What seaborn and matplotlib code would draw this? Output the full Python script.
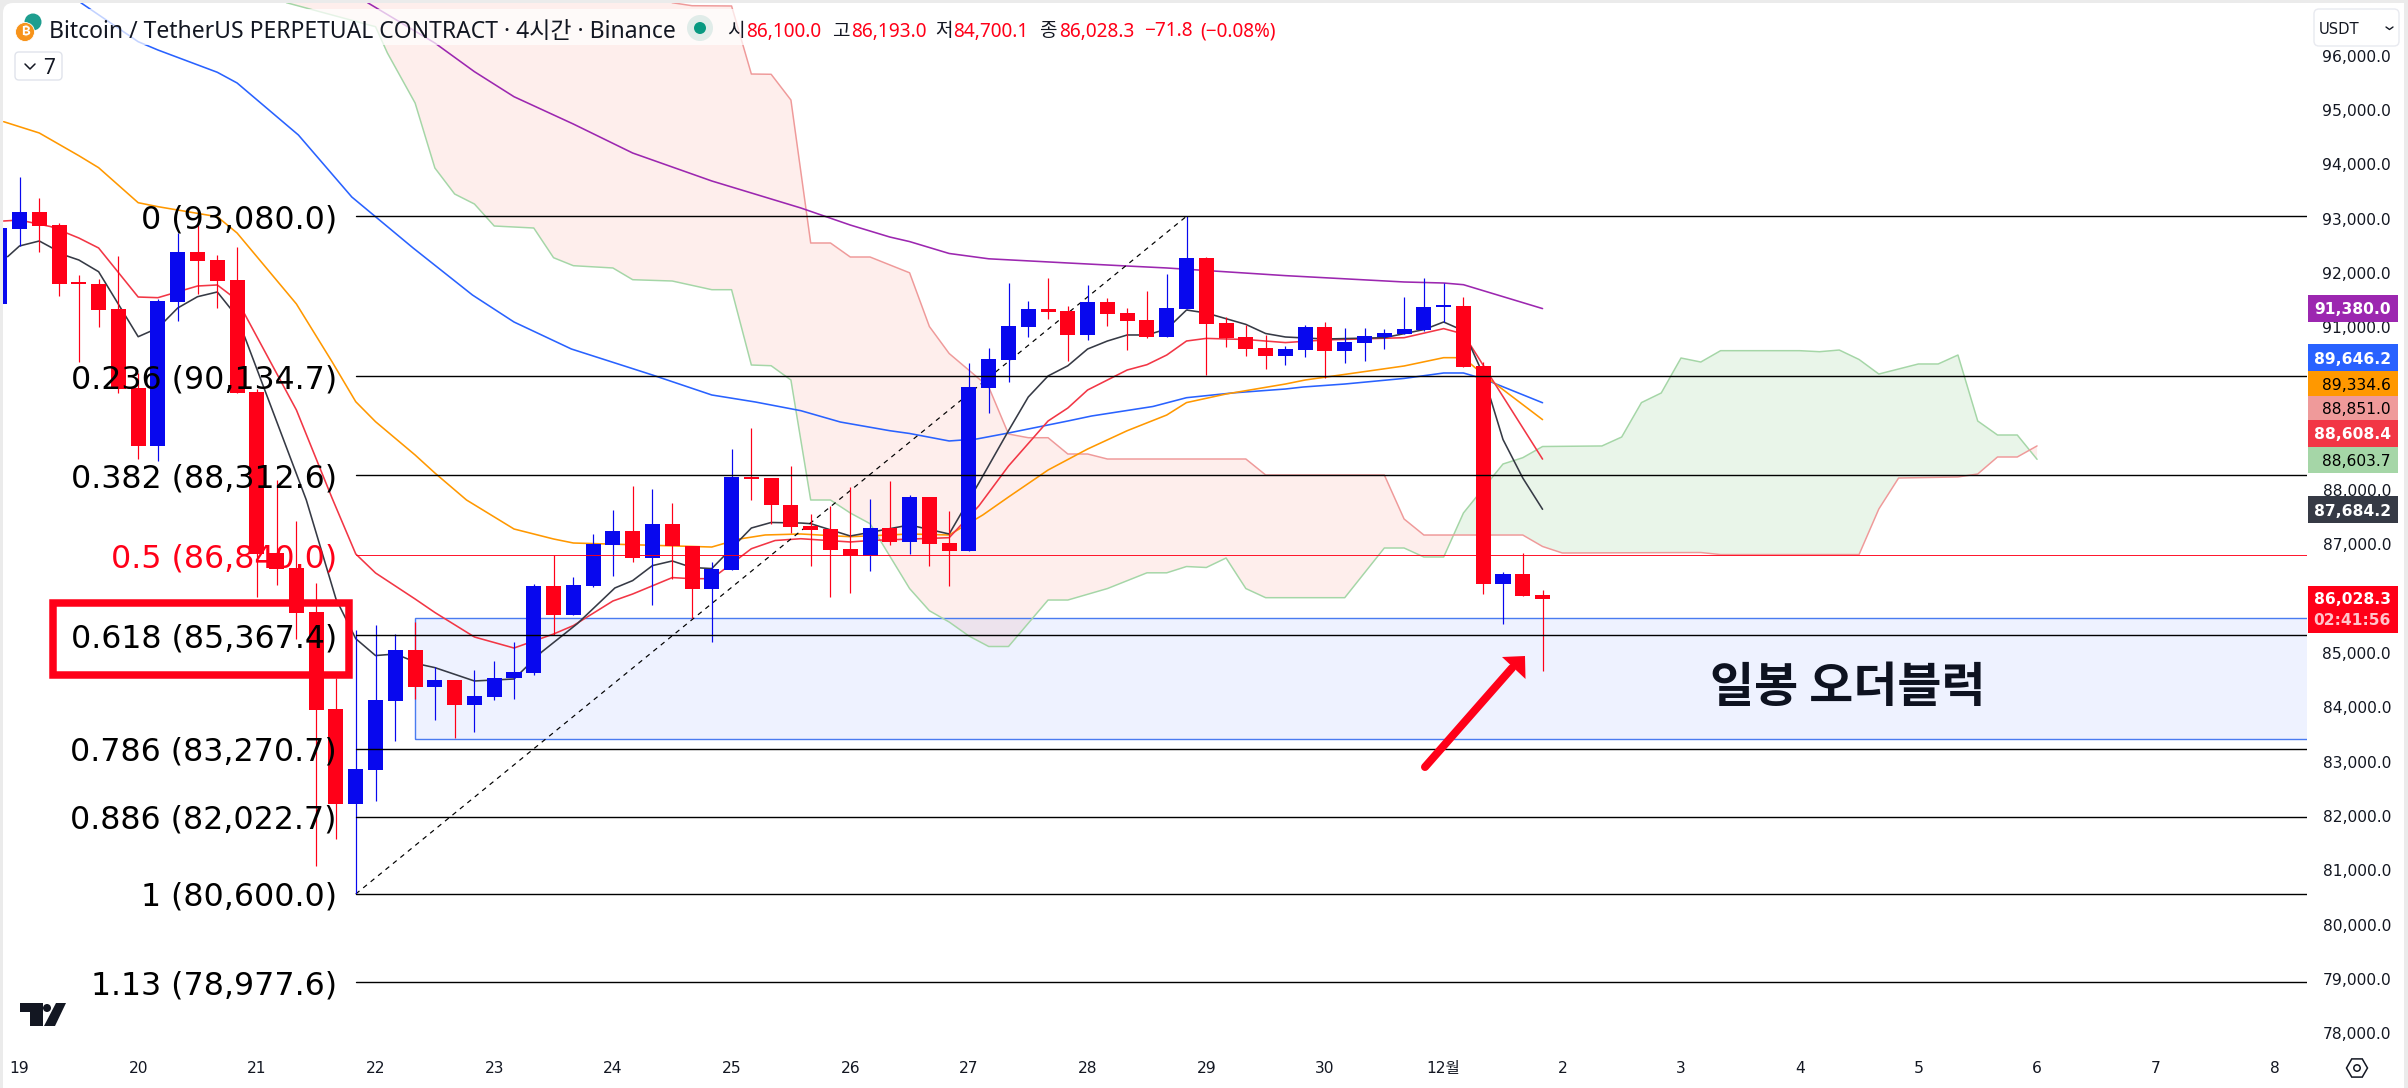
import numpy as np
import pandas as pd
import matplotlib
matplotlib.use("Agg")
import matplotlib.pyplot as plt
import seaborn as sns
from matplotlib.patches import Rectangle, Circle, Polygon, FancyBboxPatch, RegularPolygon
from matplotlib.lines import Line2D
from matplotlib.transforms import IdentityTransform, Affine2D

# ---------- OHLC (4h candles, index 0 = 19th 00:00) ----------
candle_idx = list(range(-1, 78))
opens = [91470,92851,93159,92919,91851,91838,91372,89923,88855,91501,92422,92275,91906,89844,86879,86603,85792,
         84006,82262,82890,84161,85093,84402,84540,84071,84227,84568,84678,86271,85728,86271,87034,87284,86787,
         87413,87000,86225,86566,88279,88260,87772,87380,87321,86953,86831,87339,87082,87910,87063,86916,89918,
         90433,91041,91372,91336,90894,91501,91299,91170,90857,91372,92312,91115,90857,90654,90507,90617,91041,
         90599,90747,90857,90912,90986,91409,91428,90323,86308,86492,86100]
closes = [92864,93159,92901,91838,91833,91354,89899,88855,91520,92422,92257,91888,89826,86861,86592,85783,83995,
          82262,82901,84172,85093,84402,84540,84071,84245,84577,84688,86271,85728,86290,87045,87284,86787,87413,
          87000,86225,86584,88279,88242,87772,87358,87310,86934,86831,87339,87082,87910,87045,86916,89936,90452,
          91059,91372,91317,90894,91501,91280,91151,90857,91391,92312,91096,90839,90636,90507,90636,91041,90599,
          90765,90875,90931,91004,91409,91428,90304,86308,86492,86087,86028]
highs = [93000,93803,93417,92956,92000,91925,92348,90194,91557,92772,93011,92367,92514,89899,88223,87468,86326,
         84577,85452,85553,85387,85608,84780,84540,84724,84890,85240,86308,86833,86437,87229,87662,88113,88058,
         87800,87000,86713,88794,89181,88260,88481,87597,87745,88095,87873,88205,87947,87910,87652,90378,90654,
         91851,91520,91943,91428,91814,91575,91391,91704,92017,93080,92330,91225,91078,90894,90682,91078,91133,
         91023,91023,91004,91594,91943,91851,91594,90396,86529,86888,86193]
lows = [91300,92533,92428,91612,90396,91041,89826,88610,88573,91151,91654,91391,89826,86069,86295,85301,81122,
        81619,80600,82312,83417,84196,83803,83463,83583,84181,84196,84637,85369,85728,86253,86455,86722,85921,
        86406,85673,85240,86566,87855,87413,87247,86643,86069,86142,86547,87032,86861,86640,86271,86916,89457,
        90028,90857,91188,90415,90802,91059,90617,90838,90857,91372,90157,90673,90507,90268,90341,90489,90102,
        90378,90415,90636,90912,90967,91133,90304,86124,85571,86087,84700]

# ---------- moving averages ----------
purple_x = [17.6,21,23,25,28,31,35,39.5,42,44,45,47,49,53,56,58,64,70,72,73,77]
purple_v = [97013,96271,95743,95282,94779,94245,93730,93233,92919,92698,92614,92395,92297,92220,92164,92128,91987,91870,91851,91820,91380]
blue_x = [3.1,6,7,10,11,14.1,16.8,19.9,22.9,25,27.9,32,35,37.2,39.5,41.5,44,45,47,48.4,50,53,54.2,57.3,59,61.4,64,64.9,67,70,72,73,74,77]
blue_v = [97013,96295,96142,95732,95535,94577,93435,92496,91630,91133,90636,90157,89789,89660,89500,89291,89131,89080,88942,88979,89089,89310,89402,89577,89739,89829,89899,89936,89991,90094,90194,90194,90087,89646]
orange_x = [-0.8,1,3,4,6,7,10,11,14,15.8,17,18,20,21,22.6,25,27,28,35,36.4,37.7,39.5,42,45,47,48.7,50,52,54,56,58,59,61,64,65,70,72,73,74,77]
orange_v = [94822,94614,94196,93975,93330,93257,93072,92772,91465,90402,89665,89297,88684,88352,87855,87321,87137,87063,86989,87137,87211,87229,87179,87229,87211,87579,87910,88407,88794,89131,89420,89649,89807,89991,90065,90323,90476,90476,90164,89335]
redma_x = [-0.8,0,1.6,3,4,6,7,9,10,11,14,15.8,17,18,20,21,23,25,27,28,30,31,33,34,35,37,38.2,39.5,42,43,47,48.5,50,52,53,54,56,57,58,59,60,62,64,66,70,72,73,77]
redma_v = [92993,93011,92888,92680,92496,91593,91581,91796,91815,91538,89512,87892,86861,86511,86032,85783,85332,85129,85387,85542,85995,86124,86426,86406,86406,86958,87109,87142,87082,87109,87161,87745,88481,89310,89549,89881,90249,90347,90525,90783,90831,90811,90754,90802,90844,91011,90912,88608]
dark_x = [-0.6,0,1,2.4,3,4,6,7,8,9,10,11,14.5,16,17,18,19,20.4,21,23,25,26.4,28.2,30.1,31,32,33,34,35,37,38,39.5,40,42,45,47,48.5,50,51,52,53,54,55,56,57,58,59,60,62,63,64,66,69,71,72,73,74,75,76,77]
dark_v = [92336,92533,92625,92349,92275,92059,90862,91023,91391,91599,91686,91231,87855,86032,85301,84990,85019,84816,84768,84522,84559,85056,85577,86235,86371,86647,86732,86612,86592,87339,87441,87431,87419,87192,87395,87229,88168,89131,89752,90139,90327,90636,90783,90894,90894,91004,91354,91299,91089,90921,90857,90820,90844,90993,91133,90973,90164,88969,88260,87684]

# ---------- cloud ----------
spanA_x = [13,13.5,18,18.6,20,21,22,23,24,26,27,28,30,31,33,35,36,37,38,39,40,41,42,43,45,46,47,48,49,50,52,53,55,57,58,59,60,61,62,63,67,69,70,71,72,73,75,76,77,80,81,82,83,84,85,86,90,91,92,93,94,96,97,98,99,100,101,102]
spanA_v = [97300,97013,96571,96087,95166,93969,93490,93306,92901,92864,92317,92170,92128,91912,91888,91728,91728,90341,90328,90065,87855,87855,87616,87419,86224,85816,85608,85350,85157,85157,86013,86013,86224,86514,86514,86630,86612,86787,86224,86056,86056,86971,86971,86805,86805,87616,88518,88634,88840,88850,89015,89649,89826,90470,90396,90605,90605,90586,90617,90443,90175,90360,90360,90525,89310,89052,89052,88604]
spanB_x = [13,32,33,34,36,37,38,39,40,41,42,43,45,46,47,49,50,51,52,53,54,55,62,63,69,70,71,76,77,78,85,86,93,94,95,98,99,100,101,102]
spanB_v = [97300,97300,97013,96958,96953,95700,95695,95221,92588,92588,92330,92330,92039,91050,90553,89936,89070,89002,89002,88702,88702,88610,88610,88316,88316,87505,87210,87210,86999,86879,86888,86850,86850,87689,88260,88279,88334,88647,88647,88851]

# ---------- levels and labels ----------
fib_ratio = ["0","0.236","0.382","0.5","0.618","0.786","0.886","1","1.13"]
fib_price = [93080.0,90134.7,88312.6,86840.0,85367.4,83270.7,82022.7,80600.0,78977.6]
fib_start = 17
trend_x = [17, 59]
trend_y = [80600, 93080]
block_x = 20
block_top = 85673
block_bottom = 83454
price_ticks = list(range(78000, 97000, 1000))
day_ticks = ["19","20","21","22","23","24","25","26","27","28","29","30","12월","2","3","4","5","6","7","8"]
badges = [("91,380.0","#9C27B0","white",295,322),("89,646.2","#2962FF","white",344,371),
          ("89,334.6","#FF9800","black",371,396),("88,851.0","#EF9A9A","black",396,420),
          ("88,608.4","#F23645","white",420,446.5),("88,603.7","#A5D6A7","black",446.5,472.6),
          ("87,684.2","#363A45","white",496,523)]
UP = "#0808EE"; DOWN = "#FF0018"

sns.set_theme(style="white")
plt.rcParams["font.family"] = ["Noto Sans", "Noto Sans CJK KR", "DejaVu Sans"]
W, H = 2408, 1088
fig = plt.figure(figsize=(W/100, H/100), dpi=100, facecolor="#EBEBEB")
ID = IdentityTransform()
PT = 72/100
def Y(y): return H - y

# white rounded panel
fig.add_artist(FancyBboxPatch((3+10, 0), W-4-3-20, H-3-10, boxstyle="round,pad=10", fc="white", ec="none", transform=ID, zorder=-5))

L, R, T, B = 3, 2307, 3, 1048
ax = fig.add_axes([L/W, 1-B/H, (R-L)/W, (B-T)/H], facecolor="none")
ax.set_xlim((L-19.5)/19.78, (R-19.5)/19.78)
ax.set_ylim(97063-18.416*B, 97063-18.416*T)

# cloud
grid = np.array(sorted(set(spanA_x) | set(spanB_x)), dtype=float)
a = np.interp(grid, spanA_x, spanA_v); b = np.interp(grid, spanB_x, spanB_v)
ax.fill_between(grid, a, b, where=b >= a, interpolate=True, color="#F44336", alpha=0.09, lw=0, zorder=1)
ax.fill_between(grid, a, b, where=a >= b, interpolate=True, color="#4CAF50", alpha=0.12, lw=0, zorder=1)

# order block
ax.add_patch(Rectangle((block_x, block_bottom), 200, block_top-block_bottom, fc="#2962FF", alpha=0.08, ec="none", zorder=1.2))
ax.add_patch(Rectangle((block_x, block_bottom), 200, block_top-block_bottom, fc="none", ec="#4A7BF0", lw=1.4*PT, zorder=1.3))

# moving averages and cloud edges
lines = [(spanA_x, spanA_v, "#A5D6A7", 1.5), (spanB_x, spanB_v, "#EF9A9A", 1.5),
         (purple_x, purple_v, "#9C27B0", 1.6), (blue_x, blue_v, "#2962FF", 1.6),
         (orange_x, orange_v, "#FF9800", 1.6), (redma_x, redma_v, "#F23645", 1.6),
         (dark_x, dark_v, "#363A45", 1.6)]
for i, (x, v, c, w) in enumerate(lines):
    df = pd.DataFrame({"x": x, "v": v})
    sns.lineplot(data=df, x="x", y="v", color=c, lw=w*PT, ax=ax, sort=False, estimator=None, zorder=2+i*0.01)

ax.plot(trend_x, trend_y, color="black", lw=1.2*PT, ls=(0, (4, 4)), zorder=2.5)

# candles
cx = np.array(candle_idx, dtype=float)
o, h, l, c = map(np.array, (opens, highs, lows, closes))
up = c >= o
colors = np.where(up, UP, DOWN)
ax.vlines(cx, l, h, colors=colors, lw=1.2*PT, zorder=3)
ax.bar(cx, np.maximum(np.abs(c-o), 30), bottom=np.minimum(o, c), width=0.76, color=colors, lw=0, zorder=3.1)

# fib lines
for r, p in zip(fib_ratio, fib_price):
    col = "#FF0018" if r == "0.5" else "black"
    ax.plot([fib_start, 200], [p, p], color=col, lw=(0.9 if r == "0.5" else 1.4)*PT, zorder=3.5)
    ax.text(fib_start-0.95, p, f"{r} ({p:,.1f})", color=col, ha="right", va="center_baseline",
            fontsize=22.8, family="DejaVu Sans", zorder=6)

# axes furniture
ax.set_xlabel(""); ax.set_ylabel("")
for s in ax.spines.values(): s.set_visible(False)
ax.yaxis.tick_right()
ax.set_yticks(price_ticks, [f"{t:,.1f}" for t in price_ticks])
ax.set_xticks([6*i for i in range(len(day_ticks))], day_ticks)
ax.tick_params(axis="y", length=0, pad=(2391-R)*PT, labelsize=11.2, labelcolor="#131722")
ax.tick_params(axis="x", length=0, pad=9.5, labelsize=11.2, labelcolor="#131722")
for t in ax.get_yticklabels():
    t.set_ha("right"); t.set_family("DejaVu Sans")
    t.set_transform(t.get_transform() + Affine2D().translate(0, 2))
for t in ax.get_xticklabels():
    t.set_family(["DejaVu Sans", "Noto Sans CJK KR"])

Z = 10
# header band
fig.add_artist(Rectangle((4, Y(45)), 1276, 36, fc="white", alpha=0.72, ec="none", transform=ID, zorder=Z))
fig.add_artist(Rectangle((2308, Y(50)), 96, 47, fc="white", ec="none", transform=ID, zorder=Z))
fig.add_artist(Circle((33, Y(22)), 8.5, fc="#1E9E8F", ec="none", transform=ID, zorder=Z))
fig.add_artist(Circle((25, Y(32)), 9.5, fc="#F7931A", ec="white", lw=0.6, transform=ID, zorder=Z+.1))
fig.text(25, Y(32), "₿", color="white", fontsize=9.5, ha="center", va="center",
         family=["Inter", "Roboto", "Noto Sans", "Open Sans", "Lato", "DejaVu Sans"], weight="bold", transform=ID, zorder=Z+.2)
fig.text(49, Y(29), "Bitcoin / TetherUS PERPETUAL CONTRACT · 4시간 · Binance", color="#131722", fontsize=16.5,
         ha="left", va="center_baseline", family=["Noto Sans", "Noto Sans CJK KR"], transform=ID, zorder=Z+1)
fig.add_artist(Circle((700, Y(28)), 13, fc="#E0ECE9", ec="none", transform=ID, zorder=Z+1))
fig.add_artist(Circle((700, Y(28)), 6, fc="#089981", ec="none", transform=ID, zorder=Z+1))
for px, s, col in [(727,"시","#131722"),(746,"86,100.0",DOWN),(832,"고","#131722"),(851,"86,193.0",DOWN),
                   (935,"저","#131722"),(953,"84,700.1",DOWN),(1039,"종","#131722"),(1059,"86,028.3",DOWN),
                   (1144,"−71.8",DOWN),(1200,"(−0.08%)",DOWN)]:
    fig.text(px, Y(29), s, color=col, fontsize=13.7, ha="left", va="center_baseline",
             family=["Noto Sans", "Noto Sans CJK KR"], transform=ID, zorder=Z+1)

# "7" button
fig.add_artist(FancyBboxPatch((19, Y(76)), 39, 20, boxstyle="round,pad=4", fc="white", ec="#E0E3EB", lw=1, transform=ID, zorder=Z))
fig.add_artist(Line2D([25, 30, 35], [Y(64), Y(69), Y(64)], color="#131722", lw=1.1, transform=ID, zorder=Z+1))
fig.text(49, Y(66), "7", color="#131722", fontsize=15, ha="center", va="center_baseline", transform=ID, zorder=Z+1)

# USDT button
fig.add_artist(FancyBboxPatch((2319, Y(41)), 75, 27, boxstyle="round,pad=5", fc="white", ec="#E8EAF0", lw=1, transform=ID, zorder=Z+.5))
fig.text(2319, Y(28), "USDT", color="#131722", fontsize=10.6, ha="left", va="center_baseline", family="DejaVu Sans", transform=ID, zorder=Z+1)
fig.add_artist(Line2D([2386, 2389.5, 2393], [Y(27), Y(29.5), Y(27)], color="#131722", lw=1, transform=ID, zorder=Z+1))

# badges on the price axis
for s, fc, tc, y0, y1 in badges:
    fig.add_artist(Rectangle((2308, Y(y1)), 90, y1-y0, fc=fc, ec="none", transform=ID, zorder=Z))
    fig.text(2391, Y((y0+y1)/2), s, color=tc, fontsize=11.2, weight="bold" if tc == "white" else "normal", ha="right",
             va="center_baseline", family="DejaVu Sans", transform=ID, zorder=Z+1)
fig.add_artist(Rectangle((2308, Y(633.4)), 90, 47.4, fc=DOWN, ec="none", transform=ID, zorder=Z))
fig.text(2391, Y(598), "86,028.3", color="white", fontsize=11.2, weight="bold", ha="right", va="center_baseline", family="DejaVu Sans", transform=ID, zorder=Z+1)
fig.text(2391, Y(619), "02:41:56", color="#FFC4CC", fontsize=11.2, weight="bold", ha="right", va="center_baseline", family="DejaVu Sans", transform=ID, zorder=Z+1)

# highlight box
fig.add_artist(Rectangle((53, Y(674.5)), 296, 72, fc="none", ec="#FF0018", lw=7.5*PT, transform=ID, zorder=Z))

# arrow
fig.add_artist(Line2D([1425, 1512], [Y(767), Y(668)], color="#FF0018", lw=8*PT, solid_capstyle="round", transform=ID, zorder=Z))
fig.add_artist(Polygon([(1525, Y(656)), (1502, Y(657)), (1525.5, Y(679))], closed=True, fc="#FF0018", ec="none", transform=ID, zorder=Z))

# order block caption
fig.text(1848, Y(682), "일봉 오더블럭", color="#0D1220", fontsize=34.5, weight="bold", ha="center", va="center_baseline",
         family="Noto Sans CJK KR", transform=ID, zorder=Z)

# TradingView mark
k = "#131722"
fig.add_artist(Polygon([(20,Y(1003)),(43,Y(1003)),(43,Y(1026)),(30,Y(1026)),(30,Y(1012)),(20,Y(1012))], closed=True, fc=k, ec="none", transform=ID, zorder=Z))
fig.add_artist(Circle((47, Y(1008)), 4, fc=k, ec="none", transform=ID, zorder=Z))
fig.add_artist(Polygon([(56,Y(1003)),(66,Y(1003)),(55,Y(1026)),(44,Y(1026))], closed=True, fc=k, ec="none", transform=ID, zorder=Z))

# settings icon
fig.add_artist(RegularPolygon((2357, Y(1068)), 6, radius=10.5, orientation=np.pi/2, fc="none", ec=k, lw=1.1, transform=ID, zorder=Z))
fig.add_artist(Circle((2357, Y(1068)), 3.2, fc="none", ec=k, lw=1.1, transform=ID, zorder=Z))

fig.savefig("out.png", dpi=100, facecolor=fig.get_facecolor())
